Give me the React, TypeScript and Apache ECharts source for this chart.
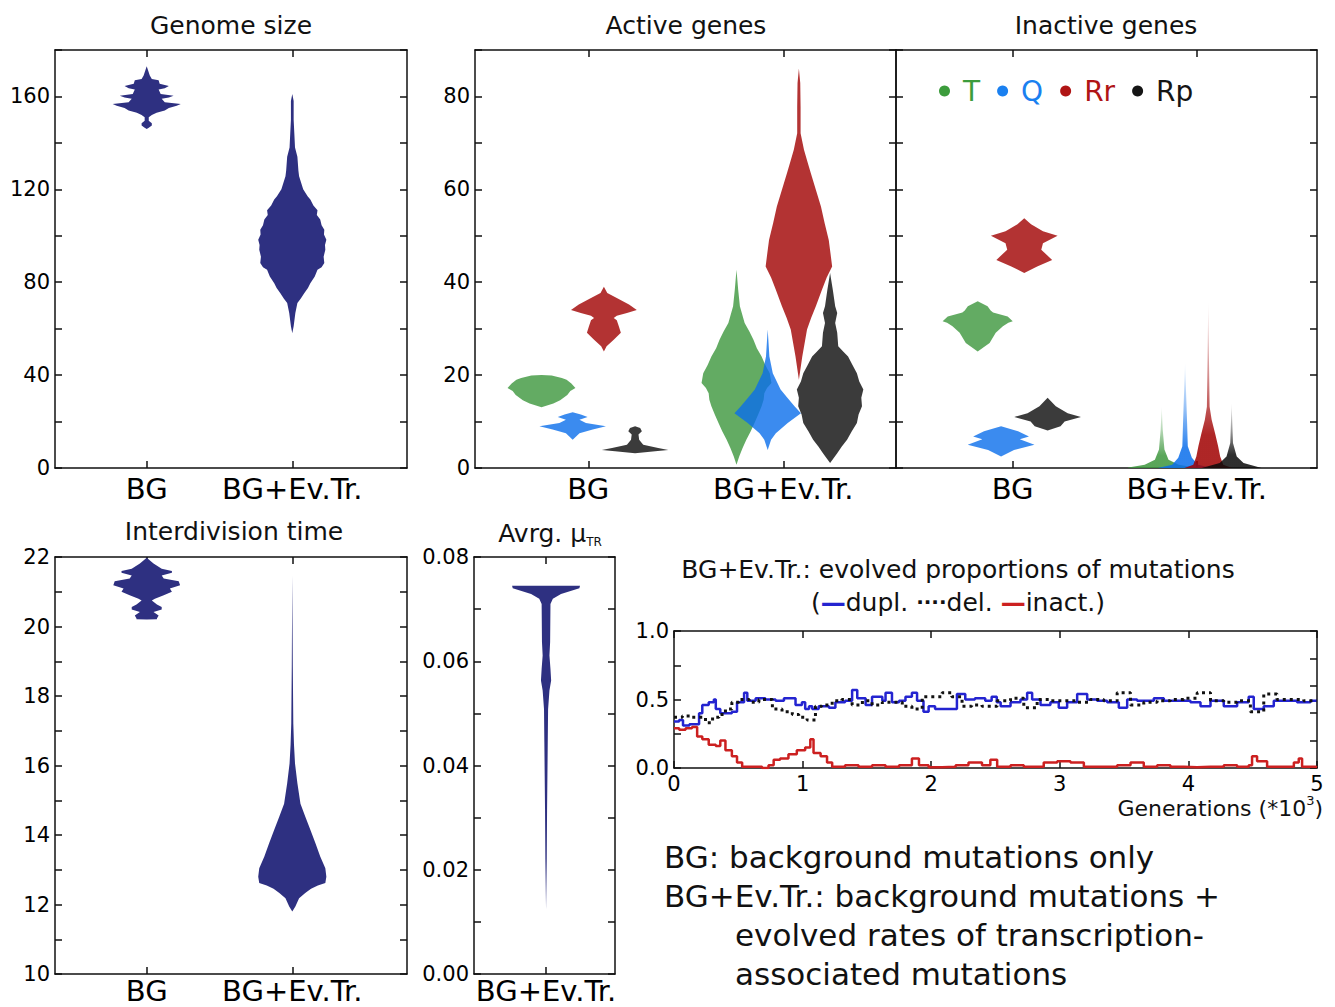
import React, { useEffect, useRef } from 'react';
import * as echarts from 'echarts';

// ---------- categories / labels ----------
const CATEGORIES = ['BG', 'BG+Ev.Tr.'];
const MU_CATEGORIES = ['BG+Ev.Tr.'];
const GENE_GROUPS = ['T', 'Q', 'Rr', 'Rp'];

// ---------- violin profiles: [value, relative density (half width)] ----------
const GENOME_BG = [[173,0],[169,0.09],[167.5,0.15],[167,0.35],[165.5,0.38],[164.5,0.65],[163.5,0.53],[163,0.35],[161,0.41],[160.3,0.79],[159.5,0.65],[159,0.44],[157.5,0.53],[156.8,1.0],[156,0.88],[155,0.65],[154,0.53],[153,0.29],[152,0.15],[151,0.06],[149.5,0.06],[148.5,0.15],[147.5,0.15],[146.5,0.06],[146,0]];
const GENOME_EV = [[161,0],[158,0.04],[150,0.04],[144,0.06],[138,0.08],[134,0.15],[128,0.18],[125.6,0.2],[120,0.32],[117,0.45],[115.6,0.53],[113,0.62],[111,0.74],[109,0.72],[107,0.82],[104.5,0.86],[102.6,0.94],[100.5,0.93],[98.3,1.0],[96,0.96],[94,0.97],[91,0.92],[88.3,0.94],[86.5,0.86],[85.4,0.74],[82.5,0.66],[79.6,0.53],[77.5,0.46],[75.3,0.35],[73,0.25],[71,0.15],[66.7,0.09],[61,0.04],[58,0]];

const ACT_BG_T = [[20,0],[19.9,0.3],[19.4,0.6],[19,0.74],[18.2,0.88],[17.2,1.0],[16.6,0.85],[15.7,0.76],[14.6,0.55],[13.9,0.35],[13.1,0]];
const ACT_BG_Q = [[12,0],[11.5,0.24],[11,0.44],[10.4,0.2],[9.7,0.39],[9,0.98],[8.3,0.59],[7.5,0.2],[6.1,0]];
const ACT_BG_RR = [[39,0],[37.7,0.1],[36.6,0.38],[35.2,0.74],[34,0.97],[33.4,0.68],[32.8,0.38],[32.3,0.29],[31.8,0.38],[30.5,0.44],[29.1,0.5],[27.6,0.29],[26.2,0.08],[25.1,0]];
const ACT_BG_RP = [[9,0],[8.6,0.15],[7.9,0.2],[7.2,0.1],[6.1,0.12],[5,0.24],[4.3,0.68],[3.9,0.98],[3.6,0.59],[3.2,0]];
const ACT_EV_T = [[42.7,0],[38.4,0.05],[34.8,0.1],[31.2,0.24],[29.4,0.38],[27.6,0.5],[25.8,0.6],[24,0.74],[22.2,0.85],[20.4,0.98],[18.3,1.03],[17.2,0.9],[16.1,0.82],[14.7,0.8],[13.3,0.74],[11.5,0.64],[9.7,0.53],[7.9,0.42],[6.1,0.29],[4.3,0.18],[2.5,0.08],[0.7,0]];
const ACT_EV_Q = [[29.8,0],[24,0.05],[20.4,0.15],[16.9,0.38],[15.1,0.58],[13.3,0.79],[11.8,0.98],[10.8,0.8],[9.7,0.59],[7.5,0.24],[6.1,0.1],[3.9,0]];
const ACT_EV_RR = [[86,0],[82.9,0.04],[77.8,0.05],[72.1,0.05],[68.5,0.15],[66,0.25],[63.5,0.35],[59.9,0.5],[56.3,0.65],[52.7,0.76],[49.1,0.88],[46.3,0.93],[43.4,0.98],[41,0.82],[38.4,0.68],[34.8,0.5],[32.3,0.36],[29.8,0.24],[24,0.1],[19,0]];
const ACT_EV_RP = [[42,0],[38.4,0.08],[34.8,0.15],[33.4,0.21],[31.2,0.15],[29.1,0.21],[26.2,0.24],[25,0.4],[24,0.53],[22.2,0.66],[20.4,0.79],[18.6,0.86],[16.9,0.98],[15.1,0.92],[13.3,0.94],[11.5,0.84],[9.7,0.79],[7.9,0.64],[6.1,0.5],[4.6,0.34],[3.2,0.21],[1.1,0]];

const INACT_BG_T = [[35.9,0],[34.8,0.29],[33.9,0.38],[33.5,0.45],[32.6,0.88],[31.6,1.03],[31.3,0.9],[30.5,0.74],[29.1,0.53],[26.9,0.35],[25.1,0]];
const INACT_BG_Q = [[9,0],[7.9,0.5],[6.8,0.82],[6.2,0.55],[5,0.98],[3.9,0.38],[2.5,0]];
const INACT_BG_RR = [[53.8,0],[52.5,0.2],[51,0.55],[50,0.98],[48.4,0.55],[47,0.5],[44.8,0.82],[43.4,0.38],[42,0]];
const INACT_BG_RP = [[15.1,0],[13.3,0.24],[11.8,0.59],[11,0.98],[10,0.5],[9,0.38],[8.1,0]];
const INACT_EV_T = [[13.3,0],[8.3,0.03],[4.0,0.08],[1.8,0.2],[0.7,0.5],[0.1,0.98],[0,1.0]];
const INACT_EV_Q = [[22.6,0],[9.7,0.06],[4.7,0.08],[2.2,0.2],[0.7,0.38],[0,0.8]];
const INACT_EV_RR = [[35.8,0],[23.9,0.02],[13.2,0.04],[10.4,0.1],[7.5,0.2],[4.7,0.29],[2.5,0.35],[0.7,0.44],[0,0.7]];
const INACT_EV_RP = [[14,0],[5.4,0.04],[2.5,0.15],[1.1,0.35],[0,0.88]];

const DIV_BG = [[21.98,0],[21.81,0.2],[21.66,0.44],[21.6,0.74],[21.55,0.74],[21.47,0.44],[21.38,0.5],[21.3,0.94],[21.19,0.98],[21.09,0.68],[21.0,0.74],[20.9,0.5],[20.8,0.24],[20.75,0.15],[20.63,0.3],[20.56,0.44],[20.49,0.44],[20.42,0.2],[20.32,0.35],[20.23,0.3],[20.21,0.3],[20.2,0]];
const DIV_EV = [[21.47,0],[18.84,0.015],[17.2,0.03],[16.6,0.05],[16.06,0.08],[15.49,0.15],[14.9,0.24],[14.53,0.38],[14.15,0.53],[13.76,0.68],[13.38,0.82],[13.04,0.97],[12.8,1.0],[12.62,0.97],[12.55,0.75],[12.45,0.55],[12.33,0.38],[12.18,0.2],[11.94,0.09],[11.8,0]];
const MU_EV = [[0.0745,1.0],[0.074,0.98],[0.0729,0.44],[0.072,0.2],[0.071,0.13],[0.0637,0.12],[0.0611,0.1],[0.0585,0.13],[0.0563,0.15],[0.0544,0.1],[0.0508,0.06],[0.0444,0.05],[0.038,0.04],[0.0316,0.03],[0.022,0.02],[0.0124,0]];

// ---------- mutation proportions over generations: [generation, proportion] ----------
const DUPL = [[0,0.34],[40,0.35],[70,0.31],[120,0.32],[170,0.32],[195,0.40],[220,0.46],[270,0.48],[310,0.50],[325,0.43],[360,0.40],[450,0.41],[490,0.48],[545,0.55],[570,0.49],[635,0.51],[710,0.50],[790,0.49],[855,0.51],[905,0.51],[945,0.46],[995,0.48],[1020,0.43],[1050,0.45],[1075,0.43],[1125,0.45],[1205,0.44],[1255,0.48],[1330,0.49],[1385,0.57],[1425,0.51],[1490,0.46],[1540,0.52],[1620,0.49],[1645,0.55],[1695,0.48],[1750,0.49],[1800,0.52],[1850,0.55],[1890,0.49],[1940,0.41],[1980,0.45],[2030,0.43],[2160,0.43],[2200,0.54],[2265,0.50],[2340,0.51],[2420,0.49],[2470,0.52],[2510,0.48],[2540,0.45],[2617,0.48],[2694,0.50],[2746,0.55],[2785,0.50],[2850,0.46],[2927,0.48],[2992,0.44],[3057,0.48],[3135,0.54],[3213,0.50],[3290,0.49],[3368,0.48],[3459,0.44],[3524,0.50],[3601,0.49],[3731,0.51],[3809,0.49],[3912,0.49],[4016,0.48],[4094,0.45],[4172,0.49],[4275,0.45],[4379,0.48],[4469,0.52],[4508,0.43],[4586,0.45],[4664,0.49],[4742,0.49],[4845,0.48],[4949,0.49],[5000,0.49]];
const DEL = [[0,0.37],[65,0.38],[140,0.37],[195,0.37],[245,0.33],[300,0.37],[350,0.39],[400,0.43],[450,0.48],[505,0.50],[585,0.48],[660,0.50],[765,0.43],[840,0.41],[920,0.39],[970,0.37],[1035,0.35],[1100,0.45],[1150,0.46],[1230,0.49],[1305,0.50],[1385,0.46],[1465,0.49],[1540,0.46],[1620,0.48],[1695,0.48],[1775,0.45],[1850,0.43],[1930,0.52],[2005,0.52],[2085,0.55],[2160,0.52],[2240,0.45],[2315,0.46],[2395,0.45],[2470,0.45],[2513,0.49],[2617,0.51],[2720,0.44],[2824,0.50],[2927,0.49],[3031,0.49],[3135,0.48],[3239,0.50],[3342,0.49],[3446,0.55],[3550,0.46],[3653,0.48],[3757,0.49],[3860,0.50],[3964,0.51],[4068,0.55],[4172,0.49],[4275,0.48],[4379,0.49],[4482,0.41],[4586,0.54],[4689,0.50],[4793,0.50],[4897,0.49],[5000,0.49]];
const INACT = [[0,0.29],[40,0.28],[90,0.29],[140,0.30],[180,0.23],[220,0.21],[270,0.17],[325,0.16],[360,0.20],[400,0.13],[450,0.085],[490,0.04],[530,0.01],[610,0.01],[685,0.0],[735,0.02],[775,0.06],[825,0.07],[890,0.10],[955,0.13],[1020,0.15],[1060,0.21],[1085,0.11],[1140,0.085],[1190,0.04],[1230,0.01],[1330,0.02],[1435,0.01],[1540,0.02],[1645,0.01],[1750,0.02],[1850,0.07],[1905,0.02],[1980,0.005],[2085,0.01],[2190,0.02],[2290,0.04],[2395,0.02],[2460,0.06],[2513,0.01],[2617,0.02],[2720,0.01],[2875,0.04],[2980,0.05],[3083,0.04],[3187,0.01],[3290,0.01],[3446,0.02],[3550,0.04],[3653,0.01],[3757,0.02],[3860,0.01],[3964,0.005],[4068,0.01],[4172,0.01],[4275,0.02],[4379,0.01],[4469,0.02],[4495,0.085],[4534,0.05],[4612,0.01],[4716,0.01],[4820,0.04],[4858,0.07],[4884,0.01],[4988,0.005],[5000,0.01]];

// ---------- styles ----------
const FONT = 'DejaVu Sans';
const NAVY = '#2e3081';
const GROUP_FILL = ['rgb(60,150,60)', 'rgb(10,110,235)', 'rgb(160,0,0)', 'rgb(10,10,10)'];
const GROUP_RGB = [[60,150,60],[10,110,235],[160,0,0],[10,10,10]];
const LEGEND_COLORS = ['#3c9c3c', '#1a80f0', '#b01515', '#151515'];
const AX = { color: '#111', width: 1.5 };

function violin(name: string, grid: number, pos: number, profile: number[][], halfW: number, fill: any, opacity: number, fade = false, rgb?: number[]) {
  return {
    type: 'custom',
    name,
    xAxisIndex: grid * 2,
    yAxisIndex: grid * 2,
    silent: true,
    z: 3,
    itemStyle: { color: typeof fill === 'string' ? fill : '#000' },
    data: profile.map(([v, d]) => [pos, v, d]),
    renderItem: (params: any, api: any) => {
      if (params.dataIndex !== 0) return null;
      const left = profile.map(([v, d]) => api.coord([pos - d * halfW, v]));
      const right = profile.slice().reverse().map(([v, d]) => api.coord([pos + d * halfW, v]));
      let f: any = fill;
      if (fade && rgb) {
        const c = (a: number) => `rgba(${rgb[0]},${rgb[1]},${rgb[2]},${a})`;
        f = new echarts.graphic.LinearGradient(0, 0, 0, 1, [
          { offset: 0, color: c(0.05) },
          { offset: 0.45, color: c(0.45) },
          { offset: 0.8, color: c(0.85) },
          { offset: 1, color: c(0.85) },
        ]);
      }
      return {
        type: 'polygon',
        shape: { points: left.concat(right) },
        style: { fill: f, opacity: fade ? 1 : opacity },
      };
    },
  };
}

function catXAxes(gridIndex: number, min: number, max: number, ticks: number[], labels: string[], margin = 6) {
  return [
    {
      type: 'value', gridIndex, min, max, position: 'bottom',
      axisLine: { show: true, onZero: false, lineStyle: AX },
      axisTick: { show: true, inside: true, length: 7, customValues: ticks, lineStyle: AX },
      axisLabel: { show: true, customValues: ticks, formatter: (v: number) => labels[ticks.indexOf(v)] ?? '', fontSize: 29, lineHeight: 29, color: '#000', margin, fontFamily: FONT },
      splitLine: { show: false },
    },
    {
      type: 'value', gridIndex, min, max, position: 'top',
      axisLine: { show: true, onZero: false, lineStyle: AX },
      axisTick: { show: true, inside: true, length: 7, customValues: ticks, lineStyle: AX },
      axisLabel: { show: false },
      splitLine: { show: false },
    },
  ];
}

function valYAxes(gridIndex: number, min: number, max: number, interval: number, fmt: ((v: number) => string) | null, rightInterval = interval) {
  return [
    {
      type: 'value', gridIndex, min, max, interval, position: 'left',
      axisLine: { show: true, onZero: false, lineStyle: AX },
      axisTick: { show: true, inside: true, length: 7, lineStyle: AX },
      axisLabel: { show: !!fmt, formatter: fmt || undefined, fontSize: 21, color: '#000', margin: 5, fontFamily: FONT },
      splitLine: { show: false },
    },
    {
      type: 'value', gridIndex, min, max, interval: rightInterval, position: 'right',
      axisLine: { show: true, onZero: false, lineStyle: AX },
      axisTick: { show: true, inside: true, length: 7, lineStyle: AX },
      axisLabel: { show: false },
      splitLine: { show: false },
    },
  ];
}

function buildOption() {
  const HW_GENOME = 0.234;
  const HW_ACT = 0.174;
  const HW_INACT = 0.185;
  const HW_MU = 0.241;
  const OFF_ACT = [-0.24, -0.08, 0.08, 0.24];
  const OFF_INACT = [-0.19, -0.063, 0.063, 0.19];

  const actBG = [ACT_BG_T, ACT_BG_Q, ACT_BG_RR, ACT_BG_RP];
  const actEV = [ACT_EV_T, ACT_EV_Q, ACT_EV_RR, ACT_EV_RP];
  const inBG = [INACT_BG_T, INACT_BG_Q, INACT_BG_RR, INACT_BG_RP];
  const inEV = [INACT_EV_T, INACT_EV_Q, INACT_EV_RR, INACT_EV_RP];

  const series: any[] = [];
  series.push(violin('gBG', 0, 1, GENOME_BG, HW_GENOME, NAVY, 1));
  series.push(violin('gEV', 0, 2, GENOME_EV, HW_GENOME, NAVY, 1));
  GENE_GROUPS.forEach((g, i) => series.push(violin(g, 1, 1 + OFF_ACT[i], actBG[i], HW_ACT, GROUP_FILL[i], 0.8)));
  GENE_GROUPS.forEach((g, i) => series.push(violin(g, 1, 2 + OFF_ACT[i], actEV[i], HW_ACT, GROUP_FILL[i], 0.8)));
  GENE_GROUPS.forEach((g, i) => series.push(violin(g, 2, 1 + OFF_INACT[i], inBG[i], HW_INACT, GROUP_FILL[i], 0.8)));
  GENE_GROUPS.forEach((g, i) => series.push(violin(g, 2, 2 + OFF_INACT[i], inEV[i], HW_INACT, GROUP_FILL[i], 0.8, true, GROUP_RGB[i])));
  series.push(violin('dBG', 3, 1, DIV_BG, HW_GENOME, NAVY, 1));
  series.push(violin('dEV', 3, 2, DIV_EV, HW_GENOME, NAVY, 1));
  series.push(violin('mEV', 4, 1, MU_EV, HW_MU, NAVY, 1));

  const lineBase = { type: 'line', xAxisIndex: 10, yAxisIndex: 10, showSymbol: false, step: 'end', silent: true };
  series.push({ ...lineBase, name: 'dupl.', data: DUPL, lineStyle: { color: '#2424d0', width: 2.5 }, z: 4 });
  series.push({ ...lineBase, name: 'del.', data: DEL, lineStyle: { color: '#111', width: 3, type: [3, 4] }, z: 5 });
  series.push({ ...lineBase, name: 'inact.', data: INACT, lineStyle: { color: '#cc2020', width: 2.5 }, z: 4 });

  const xAxis = [
    ...catXAxes(0, 0.37, 2.788, [1, 2], CATEGORIES),
    ...catXAxes(1, 0.419, 2.578, [1, 2], CATEGORIES),
    ...catXAxes(2, 0.366, 2.654, [1, 2], CATEGORIES),
    ...catXAxes(3, 0.37, 2.788, [1, 2], CATEGORIES, 2),
    ...catXAxes(4, 0.489, 1.489, [1], MU_CATEGORIES, 2),
    {
      type: 'value', gridIndex: 5, min: 0, max: 5000, interval: 1000, position: 'bottom',
      axisLine: { show: true, onZero: false, lineStyle: AX },
      axisTick: { show: true, inside: true, length: 7, lineStyle: AX },
      axisLabel: { formatter: (v: number) => String(v / 1000), fontSize: 21, color: '#000', margin: 5, fontFamily: FONT },
      splitLine: { show: false },
    },
    {
      type: 'value', gridIndex: 5, min: 0, max: 5000, interval: 1000, position: 'top',
      axisLine: { show: true, onZero: false, lineStyle: AX },
      axisTick: { show: true, inside: true, length: 7, lineStyle: AX },
      axisLabel: { show: false },
      splitLine: { show: false },
    },
  ];

  const yAxis = [
    ...valYAxes(0, 0, 180, 20, (v) => (v % 40 === 0 ? String(v) : '')),
    ...valYAxes(1, 0, 90, 10, (v) => (v % 20 === 0 ? String(v) : '')),
    ...valYAxes(2, 0, 90, 10, null),
    ...valYAxes(3, 10, 22, 1, (v) => (Math.round(v) % 2 === 0 ? String(Math.round(v)) : '')),
    ...valYAxes(4, 0, 0.08, 0.01, (v) => (Math.round(v * 100) % 2 === 0 ? v.toFixed(2) : '')),
    ...valYAxes(5, 0, 1, 0.25, (v) => (Math.abs(v * 2 - Math.round(v * 2)) < 1e-6 ? v.toFixed(1) : ''), 0.2),
  ];

  const title = (text: string, x: number, y: number, size = 25) => ({
    type: 'text', x, y, silent: true,
    style: { text, fontSize: size, fontFamily: FONT, fill: '#111', align: 'center', verticalAlign: 'middle' },
  });
  const leftText = (text: string, x: number, y: number) => ({
    type: 'text', x, y, silent: true,
    style: { text, fontSize: 31, fontFamily: FONT, fill: '#111', align: 'left', verticalAlign: 'middle' },
  });

  const graphic = [
    title('Genome size', 231, 25),
    title('Active genes', 686, 25),
    title('Inactive genes', 1106, 25),
    title('Interdivision time', 234, 531),
    {
      type: 'text', x: 550, y: 533, silent: true,
      style: {
        text: '{n|Avrg. μ}{s|TR}', align: 'center', verticalAlign: 'middle', fill: '#111', fontFamily: FONT,
        rich: {
          n: { fontSize: 25, fontFamily: FONT, fill: '#111', lineHeight: 30 },
          s: { fontSize: 12, fontFamily: FONT, fill: '#111', lineHeight: 30, verticalAlign: 'bottom', padding: [12, 0, 0, 0] },
        },
      },
    },
    title('BG+Ev.Tr.: evolved proportions of mutations', 958, 569),
    {
      type: 'text', x: 958, y: 602, silent: true,
      style: {
        text: '{n|(}{b|—}{n|dupl. }{k|····}{n|del. }{r|—}{n|inact.)}', align: 'center', verticalAlign: 'middle', fontFamily: FONT,
        rich: {
          n: { fontSize: 25, fontFamily: FONT, fill: '#111' },
          b: { fontSize: 25, fontFamily: FONT, fill: '#2424d0', fontWeight: 'bold' },
          k: { fontSize: 20, fontFamily: FONT, fill: '#111', fontWeight: 'bold' },
          r: { fontSize: 25, fontFamily: FONT, fill: '#cc2020', fontWeight: 'bold' },
        },
      },
    },
    {
      type: 'text', x: 1323, y: 808, silent: true,
      style: {
        text: '{n|Generations (*10}{s|3}{n|)}', align: 'right', verticalAlign: 'middle', fontFamily: FONT,
        rich: {
          n: { fontSize: 22, fontFamily: FONT, fill: '#111', lineHeight: 28 },
          s: { fontSize: 13, fontFamily: FONT, fill: '#111', lineHeight: 28, verticalAlign: 'top', padding: [0, 0, 10, 0] },
        },
      },
    },
    leftText('BG: background mutations only', 664, 857),
    leftText('BG+Ev.Tr.: background mutations +', 664, 896),
    leftText('evolved rates of transcription-', 735, 935),
    leftText('associated mutations', 735, 974),
  ];

  return {
    animation: false,
    backgroundColor: '#ffffff',
    textStyle: { fontFamily: FONT },
    grid: [
      { left: 55, top: 50, width: 352, height: 418 },
      { left: 475, top: 50, width: 421, height: 418 },
      { left: 896, top: 50, width: 421, height: 418 },
      { left: 55, top: 557, width: 352, height: 417 },
      { left: 474, top: 557, width: 141, height: 417 },
      { left: 674, top: 631, width: 643, height: 137 },
    ],
    legend: {
      data: GENE_GROUPS.map((g, i) => ({
        name: g, icon: 'circle', itemStyle: { color: LEGEND_COLORS[i] }, textStyle: { color: LEGEND_COLORS[i] },
      })),
      left: 934, top: 72, itemWidth: 11, itemHeight: 11, itemGap: 17, selectedMode: false,
      textStyle: { fontSize: 28, fontFamily: FONT, padding: [0, 0, 0, 8] },
    },
    xAxis,
    yAxis,
    series,
    graphic,
  };
}

export default function App() {
  const ref = useRef<HTMLDivElement>(null);
  useEffect(() => {
    if (!ref.current) return;
    const chart = echarts.init(ref.current, null, { renderer: 'svg' });
    chart.setOption(buildOption() as any);
    return () => chart.dispose();
  }, []);
  return (
    <div
      ref={ref}
      style={{ position: 'absolute', left: 0, top: 0, width: 1335, height: 1007, background: '#fff' }}
    />
  );
}
